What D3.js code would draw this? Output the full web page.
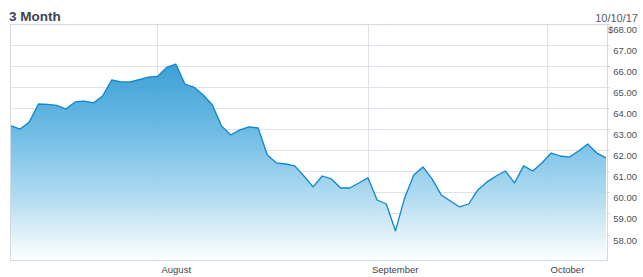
<!DOCTYPE html>
<html>
<head>
<meta charset="utf-8">
<script src="https://cdn.jsdelivr.net/npm/d3@7"></script>
<style>
  body { margin: 0; background: #fff; }
  svg { display: block; font-family: "Liberation Sans", Arial, sans-serif; }
</style>
</head>
<body>
<script>
// trading days, Jul 10 - Oct 10 2017
const dates = [
  "07/10","07/11","07/12","07/13","07/14","07/17","07/18","07/19","07/20","07/21",
  "07/24","07/25","07/26","07/27","07/28","07/31",
  "08/01","08/02","08/03","08/04","08/07","08/08","08/09","08/10","08/11","08/14",
  "08/15","08/16","08/17","08/18","08/21","08/22","08/23","08/24","08/25","08/28",
  "08/29","08/30","08/31",
  "09/01","09/05","09/06","09/07","09/08","09/11","09/12","09/13","09/14","09/15",
  "09/18","09/19","09/20","09/21","09/22","09/25","09/26","09/27","09/28","09/29",
  "10/02","10/03","10/04","10/05","10/06","10/09","10/10"
];

const prices = [
  63.16, 63.01, 63.35, 64.20, 64.18, 64.13, 63.96, 64.30, 64.34, 64.25,
  64.58, 65.34, 65.25, 65.25, 65.36, 65.48,
  65.51, 65.94, 66.10, 65.15, 64.99, 64.63, 64.15, 63.16, 62.73, 62.97,
  63.11, 63.06, 61.78, 61.40, 61.35, 61.26, 60.78, 60.26, 60.78, 60.64,
  60.21, 60.21, 60.45,
  60.69, 59.64, 59.45, 58.17, 59.74, 60.83, 61.21, 60.64, 59.88, 59.59,
  59.31, 59.45, 60.12, 60.50, 60.78, 61.02, 60.45, 61.26, 61.02, 61.40,
  61.87, 61.73, 61.68, 61.97, 62.30, 61.87, 61.64
];

const monthStarts = ["08/01", "09/01", "10/01"];
const monthLabels = ["August", "September", "October"];
const yTicks = [68, 67, 66, 65, 64, 63, 62, 61, 60, 59, 58];
const title = "3 Month";
const asOf = "10/10/17";

const W = 643, H = 277;
const plot = { left: 10, right: 607, top: 24, bottom: 260 };

const svg = d3.select("body").append("svg")
    .attr("width", W)
    .attr("height", H);

const x = d3.scaleLinear()
    .domain([0, dates.length - 1])
    .range([plot.left + 1, plot.right - 1]);

const y = d3.scaleLinear()
    .domain([56.79, 68])
    .range([plot.bottom, plot.top]);

// month gridline position: first trading day on/after the 1st (half step back if the 1st is a holiday/weekend)
const monthPos = monthStarts.map(m => {
  const i = dates.findIndex(d => d >= m);
  return dates[i] === m ? i : i - 0.5;
});

const defs = svg.append("defs");
const grad = defs.append("linearGradient")
    .attr("id", "fillGrad")
    .attr("gradientUnits", "userSpaceOnUse")
    .attr("x1", 0).attr("x2", 0)
    .attr("y1", 60).attr("y2", plot.bottom);
grad.append("stop").attr("offset", 0).attr("stop-color", "#2593cf");
grad.append("stop").attr("offset", 0.35).attr("stop-color", "#5db4e1");
grad.append("stop").attr("offset", 0.68).attr("stop-color", "#a8d7ef");
grad.append("stop").attr("offset", 1).attr("stop-color", "#ffffff");

// horizontal grid
svg.append("g")
  .selectAll("line")
  .data(yTicks)
  .enter().append("line")
    .attr("x1", plot.left).attr("x2", plot.right + 3)
    .attr("y1", d => Math.round(y(d)) + 0.5)
    .attr("y2", d => Math.round(y(d)) + 0.5)
    .attr("stroke", "#dde2ea");

// vertical grid
svg.append("g")
  .selectAll("line")
  .data(monthPos)
  .enter().append("line")
    .attr("x1", d => Math.round(x(d)) + 0.5)
    .attr("x2", d => Math.round(x(d)) + 0.5)
    .attr("y1", plot.top).attr("y2", plot.bottom)
    .attr("stroke", "#dde2ea");

const area = d3.area()
    .x((d, i) => x(i))
    .y0(plot.bottom)
    .y1(d => y(d));

const line = d3.line()
    .x((d, i) => x(i))
    .y(d => y(d));

svg.append("path")
    .datum(prices)
    .attr("d", area)
    .attr("fill", "url(#fillGrad)")
    .attr("fill-opacity", 0.9);

svg.append("path")
    .datum(prices)
    .attr("d", line)
    .attr("fill", "none")
    .attr("stroke", "#0b86cf")
    .attr("stroke-width", 1.3)
    .attr("stroke-linejoin", "round");

// frame
svg.append("rect")
    .attr("x", plot.left + 0.5)
    .attr("y", Math.round(plot.top) + 0.5)
    .attr("width", plot.right - plot.left)
    .attr("height", plot.bottom - Math.round(plot.top))
    .attr("fill", "none")
    .attr("stroke", "#d3d9e2");

// y labels
svg.append("g")
    .attr("font-size", 9.5)
    .attr("fill", "#4a4f5a")
    .attr("text-anchor", "end")
  .selectAll("text")
  .data(yTicks)
  .enter().append("text")
    .attr("x", 637)
    .attr("y", d => y(d) + 9)
    .text((d, i) => (i === 0 ? "$" : "") + d3.format(".2f")(d));

// month labels
svg.append("g")
    .attr("font-size", 9.5)
    .attr("fill", "#3d4250")
  .selectAll("text")
  .data(monthPos)
  .enter().append("text")
    .attr("x", d => x(d) + 4)
    .attr("y", 273)
    .text((d, i) => monthLabels[i]);

svg.append("text")
    .attr("x", 9)
    .attr("y", 21)
    .attr("font-size", 13.5)
    .attr("font-weight", "bold")
    .attr("fill", "#3d4352")
    .text(title);

svg.append("text")
    .attr("x", 638)
    .attr("y", 22)
    .attr("font-size", 11)
    .attr("text-anchor", "end")
    .attr("fill", "#555a64")
    .text(asOf);
</script>
</body>
</html>
